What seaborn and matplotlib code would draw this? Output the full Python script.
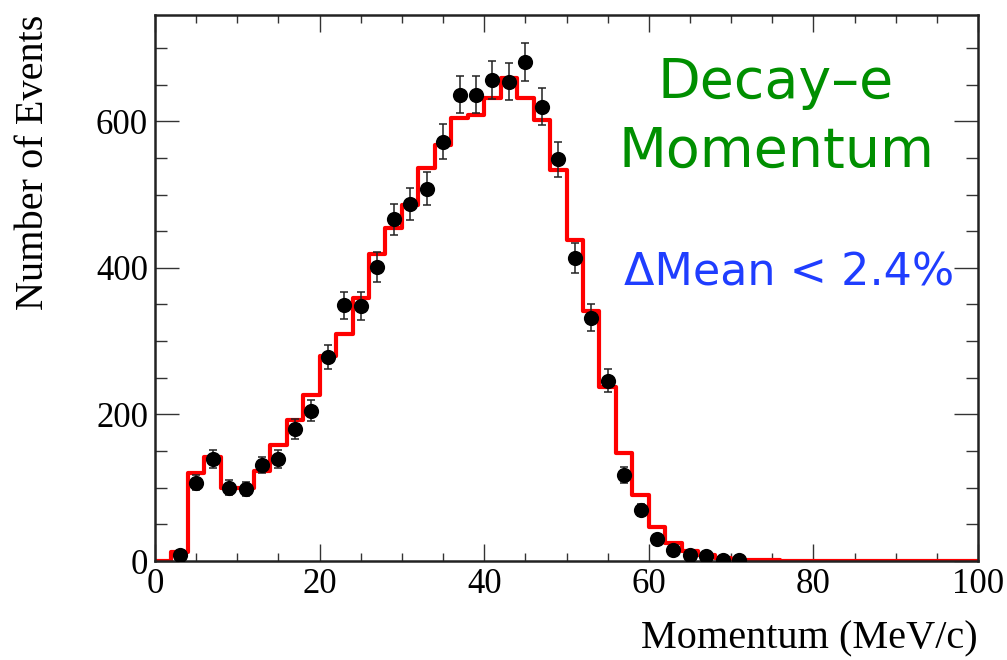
import numpy as np
import pandas as pd
import matplotlib
matplotlib.use("Agg")
import matplotlib.pyplot as plt
from matplotlib.ticker import MultipleLocator
import seaborn as sns

# ---------------- data ----------------
bin_edges = list(range(0, 102, 2))          # 2 MeV/c bins from 0 to 100
mc_counts = [0, 12, 120, 142, 99, 99, 123, 158, 193, 226,
             280, 310, 359, 419, 455, 486, 536, 568, 605, 609,
             632, 659, 632, 602, 534, 438, 341, 237, 147, 90,
             47, 24, 13, 8, 4, 2, 1, 1, 0, 0,
             0, 0, 0, 0, 0, 0, 0, 0, 0, 0]

data_momentum = [3, 5, 7, 9, 11, 13, 15, 17, 19, 21,
                 23, 25, 27, 29, 31, 33, 35, 37, 39, 41,
                 43, 45, 47, 49, 51, 53, 55, 57, 59, 61,
                 63, 65, 67, 69, 71]
data_counts = [8, 107, 139, 100, 98, 131, 139, 180, 205, 278,
               349, 348, 401, 466, 487, 508, 572, 636, 636, 656,
               654, 681, 620, 548, 413, 332, 246, 117, 70, 30,
               15, 8, 7, 2, 2]

x_ticks = [0, 20, 40, 60, 80, 100]
y_ticks = [0, 200, 400, 600]

title_lines = ["Decay\u2013e", "Momentum"]
delta_text = "\u0394Mean < 2.4%"
x_title = "Momentum (MeV/c)"
y_title = "Number of Events"

# ---------------- figure ----------------
sns.set_style("ticks")
plt.rcParams["font.family"] = ["Liberation Serif", "DejaVu Serif"]
plt.rcParams["text.color"] = "black"
plt.rcParams["axes.labelcolor"] = "black"

W, H = 1007, 660
fig, ax = plt.subplots(figsize=(W / 100, H / 100), dpi=100)
fig.subplots_adjust(left=155 / W, right=978 / W, bottom=1 - 561 / H, top=1 - 15 / H)

edges_arr = np.array(bin_edges, dtype=float)
centers = (edges_arr[:-1] + edges_arr[1:]) / 2
mc_df = pd.DataFrame({"momentum": centers, "count": np.array(mc_counts, dtype=float)})
sns.histplot(data=mc_df, x="momentum", weights="count", bins=bin_edges,
             element="step", fill=False, color="#ff0000", linewidth=3.0, ax=ax)

data_df = pd.DataFrame({"momentum": data_momentum,
                        "count": np.array(data_counts, dtype=float)})
ax.errorbar(data_df["momentum"], data_df["count"], yerr=np.sqrt(data_df["count"]),
            fmt="none", ecolor="#222222", elinewidth=1.1, capsize=3.0,
            capthick=1.1, zorder=3)
sns.scatterplot(data=data_df, x="momentum", y="count", s=120, color="black",
                edgecolor="black", linewidth=0, zorder=4, ax=ax)

ax.set_xlim(0, 100)
ax.set_ylim(0, 745)
ax.set_xticks(x_ticks)
ax.set_yticks(y_ticks)
ax.xaxis.set_minor_locator(MultipleLocator(5))
ax.yaxis.set_minor_locator(MultipleLocator(50))

ax.tick_params(axis="both", which="both", direction="in", top=True, right=True,
               colors="#333333", labelcolor="black", width=1.0)
ax.tick_params(axis="x", which="major", length=12, pad=5, labelsize=25)
ax.tick_params(axis="x", which="minor", length=6)
ax.tick_params(axis="y", which="major", length=17, pad=5, labelsize=25)
ax.tick_params(axis="y", which="minor", length=8.5)

for sp in ax.spines.values():
    sp.set_visible(True)
    sp.set_linewidth(1.8)
    sp.set_color("#222222")

ax.set_xlabel(x_title, fontsize=29, loc="right", color="black")
ax.xaxis.set_label_coords(1.0, -0.108)
ax.set_ylabel(y_title, fontsize=29, loc="top", color="black")
ax.yaxis.set_label_coords(-0.125, 1.0)

green = "#008f00"
blue = "#1f3dff"
fig.text(776 / W, 1 - 98 / H, title_lines[0], color=green, fontsize=40,
         ha="center", va="baseline", family=["DejaVu Sans"])
fig.text(776 / W, 1 - 167 / H, title_lines[1], color=green, fontsize=40,
         ha="center", va="baseline", family=["DejaVu Sans"])
fig.text(789 / W, 1 - 285 / H, delta_text, color=blue, fontsize=32,
         ha="center", va="baseline", family=["DejaVu Sans"])

fig.savefig("out.png", dpi=100)
